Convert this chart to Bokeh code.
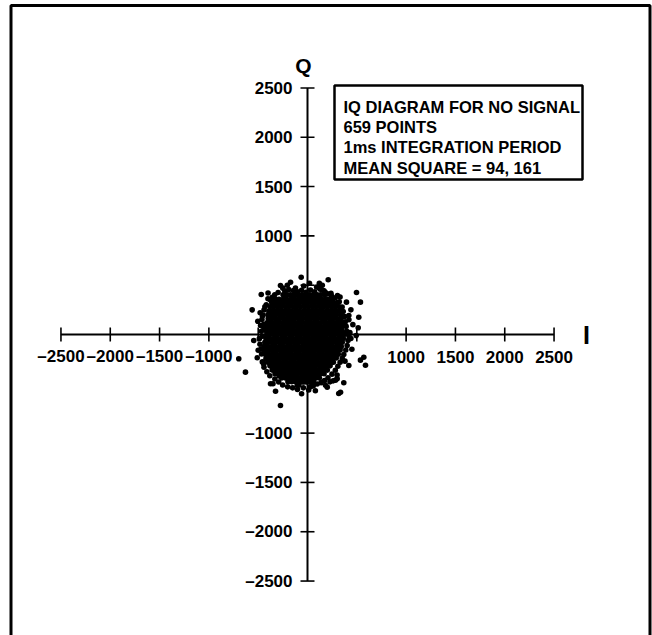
from bokeh.plotting import figure
from bokeh.models import Range1d, BoxAnnotation
from bokeh.core.properties import value
from bokeh.embed import file_html
from bokeh.resources import INLINE

# ---------------- data ----------------
tick_vals = [-2500, -2000, -1500, -1000, -500, 0, 500, 1000, 1500, 2000, 2500]
label_vals = [-2500, -2000, -1500, -1000, 1000, 1500, 2000, 2500]
label_text = ["\u20132500", "\u20132000", "\u20131500", "\u20131000", "1000", "1500", "2000", "2500"]
box_lines = ["IQ DIAGRAM FOR NO SIGNAL", "659 POINTS", "1ms INTEGRATION PERIOD", "MEAN SQUARE = 94, 161"]

# dense core of the cloud, row by row (Q value, I values)
core_q = [402, 358, 323, 281, 238, 199, 162, 118, 81, 39, 2, -41, -79, -122, -158, -201,
          -239, -282, -318, -361, -398, -441, -478]
core_i = [
    [-248, -205, -171, -128, -95, -52, -18, 21, 58, 97, 133, 176],
    [-327, -289, -246, -212, -169, -131, -94, -55, -17, 24, 61, 99, 140, 178, 214, 251],
    [-362, -318, -281, -243, -200, -163, -121, -84, -42, -6, 35, 72, 113, 149, 188, 227, 262, 301],
    [-379, -341, -302, -266, -224, -187, -145, -108, -69, -28, 11, 50, 87, 128, 166, 203, 244, 281, 322],
    [-392, -353, -314, -277, -236, -198, -160, -119, -83, -41, -3, 38, 75, 116, 152, 194, 231, 270, 306, 333],
    [-401, -362, -326, -285, -249, -208, -170, -131, -92, -54, -14, 25, 63, 101, 142, 179, 218, 257, 293, 338],
    [-398, -357, -319, -280, -243, -201, -166, -125, -86, -47, -9, 31, 68, 107, 147, 184, 224, 261, 300, 341],
    [-411, -372, -333, -296, -255, -219, -178, -140, -99, -62, -22, 16, 55, 94, 131, 172, 209, 248, 288, 323, 347],
    [-407, -366, -330, -289, -252, -212, -176, -135, -97, -57, -19, 20, 59, 97, 137, 175, 214, 252, 291, 329, 352],
    [-419, -381, -342, -303, -266, -226, -188, -149, -110, -71, -33, 6, 44, 83, 122, 160, 199, 237, 277, 314, 350],
    [-412, -373, -336, -297, -258, -220, -181, -143, -104, -66, -27, 12, 50, 89, 128, 167, 205, 244, 282, 321, 357, 381],
    [-421, -383, -344, -306, -268, -229, -190, -152, -114, -75, -36, 2, 41, 80, 118, 157, 195, 234, 273, 311, 348, 363],
    [-432, -392, -355, -316, -277, -239, -201, -162, -124, -85, -47, -8, 30, 69, 108, 146, 185, 224, 262, 300, 338, 352],
    [-441, -402, -364, -325, -287, -248, -210, -171, -133, -94, -56, -17, 21, 60, 98, 137, 176, 214, 252, 291, 320, 342],
    [-438, -399, -361, -322, -284, -245, -207, -168, -130, -91, -53, -14, 24, 63, 101, 140, 178, 217, 255, 294, 331],
    [-429, -390, -352, -313, -275, -236, -198, -159, -121, -82, -44, -5, 33, 72, 110, 149, 187, 226, 264, 296, 312],
    [-418, -380, -341, -303, -264, -226, -187, -149, -110, -72, -33, 5, 44, 82, 121, 159, 198, 236, 268, 291],
    [-401, -362, -324, -285, -247, -208, -170, -131, -93, -54, -16, 23, 61, 100, 138, 177, 215, 243, 262],
    [-381, -342, -304, -265, -227, -188, -150, -111, -73, -34, 4, 43, 81, 120, 158, 197, 229],
    [-358, -319, -281, -242, -204, -165, -127, -88, -50, -11, 27, 66, 104, 143, 176, 201],
    [-329, -290, -252, -213, -175, -136, -98, -59, -21, 18, 56, 95, 133, 168],
    [-262, -223, -185, -146, -108, -69, -31, 8, 46, 85, 121],
    [-198, -159, -121, -82, -44, -5, 33, 62],
]

# points lying between the core rows
inner_q = [380, 300, 220, 140, 60, -20, -100, -180, -260, -340, -420]
inner_i = [
    [-221, -148, -83, -12, 61, 127],
    [-338, -262, -177, -103, -18, 58, 143, 217, 292],
    [-371, -287, -213, -128, -52, 33, 107, 192, 268],
    [-388, -312, -228, -153, -68, 12, 87, 173, 248, 321],
    [-402, -317, -243, -158, -82, 3, 78, 162, 237, 318],
    [-398, -323, -238, -162, -77, -2, 83, 158, 242, 323],
    [-421, -337, -262, -178, -103, -17, 58, 143, 218, 302],
    [-418, -343, -257, -182, -97, -22, 63, 137, 222, 288],
    [-392, -307, -233, -148, -72, 13, 88, 172, 238],
    [-348, -272, -187, -113, -28, 47, 133, 192],
    [-288, -212, -127, -53, 32, 98],
]

# ragged edge of the cloud
fringe_i = [-230, -190, -100, -60, -15, 30, 72, 128, 168, 238, -298, -122, 92, -38, -205, 150,
            -332, -378, -401, -418, -432, -441, -452, -457, -462, -447,
            -468, -459, -482, -471, -466, -458, -488, -476,
            -441, -412, -382, -331, -292, -252, -201, -151, -420, -445,
            -102, -42, 12, 58, 98, 138, 172, -60, 80,
            208, 248, 282, 308, 331, 352, 368, 388, 402, 411, 422, 228, 300, 380,
            398, 392, 382, 376, 362, 351, 322, 281, 242, 202, 430, 440, 420, 440,
            -250, 20, -480, 460, 450, -350, -500, 260, 120, -400, 330]
fringe_q = [440, 455, 432, 448, 428, 452, 433, 458, 442, 418, 426, 472, 482, 492, 500, 500,
            402, 352, 362, 302, 282, 248, 198, 188, 152, 102,
            32, -18, -98, -148, -198, -278, -42, 92,
            -332, -378, -418, -452, -481, -512, -531, -541, -250, -300,
            -558, -541, -562, -522, -502, -488, -468, -600, -570,
            -438, -402, -362, -322, -281, -242, -202, -158, -112, -62, -22, -480, -410, -270,
            32, 82, 128, 182, 232, 278, 332, 372, 392, 412, 20, -40, 150, 250,
            470, 520, 220, 100, -150, -500, -160, -470, 520, 420, 380]

# isolated outlying points
outer_i = [-64, 210, -274, -172, -142, -469, 497, -561, 395, 537, 520, 419, 368, -504, -443, -413,
           514, 494, -545, -697, -510, -629, -342, 571, 537, 588, 419, -375, -324, -274, 48, 301,
           335, -104, 200, -88, 183, 284, 368, 317, 30, 112, 150, 183, 304, -358, -307]
outer_q = [581, 555, 497, 530, 446, 406, 426, 250, 328, 328, 175, 193, 108, 135, 68, 74,
           68, -10, -61, -246, -236, -382, -257, -230, -260, -311, -314, -500, -575, -720, -517, -449,
           -585, -517, -534, -514, -514, -463, -490, -598, -530, 477, 450, 426, 395, 378, 328]

# ---------------- build ----------------
pts_i, pts_q = [], []
for q, row in zip(core_q, core_i):
    pts_i += row
    pts_q += [q] * len(row)
for q, row in zip(inner_q, inner_i):
    pts_i += row
    pts_q += [q] * len(row)
pts_i += fringe_i + outer_i
pts_q += fringe_q + outer_q

K = 10.14  # data units per pixel
X0, Y0 = 307, 334
W, H = 652, 635

p = figure(width=W, height=H,
           x_range=Range1d(-X0 * K, (W - X0) * K),
           y_range=Range1d(-(H - Y0) * K, Y0 * K),
           output_backend="svg", toolbar_location=None,
           x_axis_location=None, y_axis_location=None, min_border=0)
p.grid.visible = False
p.outline_line_color = None
p.background_fill_color = "white"
p.border_fill_color = "white"

FONT = value("Liberation Sans")

# outer border of the picture
bl, br, bt = (10.5 - X0) * K, (649.5 - X0) * K, (Y0 - 5) * K
p.line([bl, bl, br, br], [-(H + 20 - Y0) * K, bt, bt, -(H + 20 - Y0) * K],
       line_color="black", line_width=3)

# axes
lo, hi = tick_vals[0], tick_vals[-1]
p.segment(x0=[lo, 0], y0=[0, lo], x1=[hi, 0], y1=[0, hi], line_color="black", line_width=2)
tl = 7 * K
p.segment(x0=tick_vals, y0=[-tl] * len(tick_vals), x1=tick_vals, y1=[tl] * len(tick_vals),
          line_color="black", line_width=1.6)
p.segment(x0=[-tl] * len(tick_vals), y0=tick_vals, x1=[tl] * len(tick_vals), y1=tick_vals,
          line_color="black", line_width=1.6)

# tick labels
p.text(x=label_vals, y=[-22 * K] * len(label_vals), text=label_text,
       text_font=FONT, text_font_style="bold", text_font_size="17px",
       text_align="center", text_baseline="middle", text_color="black")
p.text(x=[-15 * K] * len(label_vals), y=label_vals, text=label_text,
       text_font=FONT, text_font_style="bold", text_font_size="17px",
       text_align="right", text_baseline="middle", text_color="black")

# axis names
p.text(x=[-4 * K], y=[(Y0 - 65) * K], text=["Q"], text_font=FONT, text_font_style="bold",
       text_font_size="21px", text_align="center", text_baseline="middle")
p.text(x=[(586 - X0) * K], y=[0], text=["I"], text_font=FONT, text_font_style="bold",
       text_font_size="25px", text_align="center", text_baseline="middle")

# legend box
p.add_layout(BoxAnnotation(left=(334 - X0) * K, right=(582 - X0) * K,
                           top=(Y0 - 85) * K, bottom=(Y0 - 179) * K,
                           fill_alpha=0, line_color="black", line_alpha=1.0, line_width=2.5))
p.text(x=[(343 - X0) * K] * len(box_lines),
       y=[(Y0 - 106.5 - 20.2 * n) * K for n in range(len(box_lines))],
       text=box_lines, text_font=FONT, text_font_style="bold", text_font_size="16.5px",
       text_align="left", text_baseline="middle", text_color="black")

# points
p.scatter(pts_i, pts_q, marker="circle", size=5.6, fill_color="black", line_color=None)

open("out.html", "w").write(file_html(p, INLINE))
